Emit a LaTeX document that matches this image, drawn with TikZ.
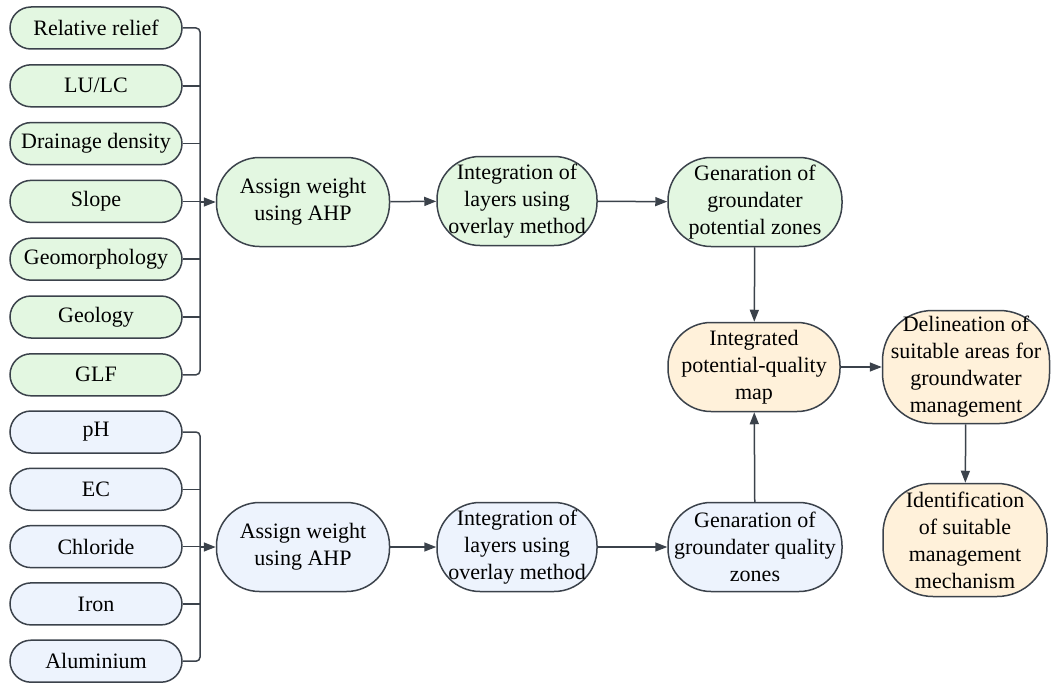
\documentclass[tikz,border=0pt]{standalone}
\usepackage{fontspec}
\setmainfont{Liberation Serif}
\usetikzlibrary{arrows.meta}

\definecolor{potgreen}{HTML}{E3F7E1}
\definecolor{qualblue}{HTML}{EDF3FD}
\definecolor{mgmtorange}{HTML}{FFF1DA}
\definecolor{edgegray}{HTML}{3B424B}

\tikzset{
    layer/.style={draw=edgegray, line width=1.5pt, rounded corners=21pt,
        minimum width=172pt, minimum height=42pt, inner sep=0pt,
        font=\fontsize{22}{27}\selectfont},
    stage/.style={draw=edgegray, line width=1.5pt, rounded corners=43pt,
        minimum height=89pt, inner sep=0pt, align=center,
        font=\fontsize{22}{27}\selectfont},
    tall/.style={minimum height=113pt, rounded corners=50pt},
    flow/.style={-{Triangle[length=12pt, width=9pt]}, line width=1.5pt, edgegray},
    bus/.style={line width=1.5pt, edgegray, rounded corners=4pt},
}

\begin{document}
\begin{tikzpicture}[x=1pt, y=-1pt]

    \useasboundingbox (0,0) rectangle (1051,682);

    % thematic layers for groundwater potential
    \foreach \name/\txt [count=\i] in {rr/Relative relief, lulc/{LU/LC},
        dd/Drainage density, slope/Slope, geomorph/Geomorphology,
        geology/Geology, glf/GLF}
        {\node[layer, fill=potgreen] (\name) at (96, 28+57.8*\i-57.8) {\txt};}

    % water quality parameters
    \foreach \name/\txt [count=\i] in {ph/pH, ec/EC, chloride/Chloride,
        iron/Iron, alum/Aluminium}
        {\node[layer, fill=qualblue] (\name) at (96, 432+57.3*\i-57.3) {\txt};}

    % potential branch
    \node[stage, fill=potgreen, minimum width=173pt] (awp) at (303,202) {Assign weight\\using AHP};
    \node[stage, fill=potgreen, minimum width=160pt] (ilp) at (517,201) {Integration of\\layers using\\overlay method};
    \node[stage, fill=potgreen, minimum width=174pt] (gpz) at (755,202) {Genaration of\\groundater\\potential zones};

    % quality branch
    \node[stage, fill=qualblue, minimum width=173pt] (awq) at (303,547) {Assign weight\\using AHP};
    \node[stage, fill=qualblue, minimum width=160pt] (ilq) at (517,547) {Integration of\\layers using\\overlay method};
    \node[stage, fill=qualblue, minimum width=174pt] (gqz) at (755,547) {Genaration of\\groundater quality\\zones};

    % management
    \node[stage, fill=mgmtorange, minimum width=172pt] (ipq) at (754,367) {Integrated\\potential-quality\\map};
    \node[stage, tall, fill=mgmtorange, minimum width=167pt] (dsa) at (966,367) {Delineation of\\suitable areas for\\groundwater\\management};
    \node[stage, tall, fill=mgmtorange, minimum width=164pt] (ism) at (965,540) {Identification\\of suitable\\management\\mechanism};

    % brackets collecting the layers
    \coordinate (gbus) at (200,202);
    \coordinate (qbus) at (200,547);
    \draw[bus] (rr.east) -| (gbus);
    \draw[bus] (glf.east) -| (gbus);
    \foreach \name in {lulc, dd, slope, geomorph, geology}
        {\draw[bus] (\name.east) -- (\name.east -| gbus);}
    \draw[bus] (ph.east) -| (qbus);
    \draw[bus] (alum.east) -| (qbus);
    \foreach \name in {ec, chloride, iron}
        {\draw[bus] (\name.east) -- (\name.east -| qbus);}

    % flow arrows
    \draw[flow] (gbus) -- (awp);
    \draw[flow] (awp) -- (ilp);
    \draw[flow] (ilp) -- (gpz);
    \draw[flow] (qbus) -- (awq);
    \draw[flow] (awq) -- (ilq);
    \draw[flow] (ilq) -- (gqz);
    \draw[flow] (gpz) -- (ipq);
    \draw[flow] (gqz) -- (ipq);
    \draw[flow] (ipq) -- (dsa);
    \draw[flow] (dsa) -- (ism);

\end{tikzpicture}
\end{document}
